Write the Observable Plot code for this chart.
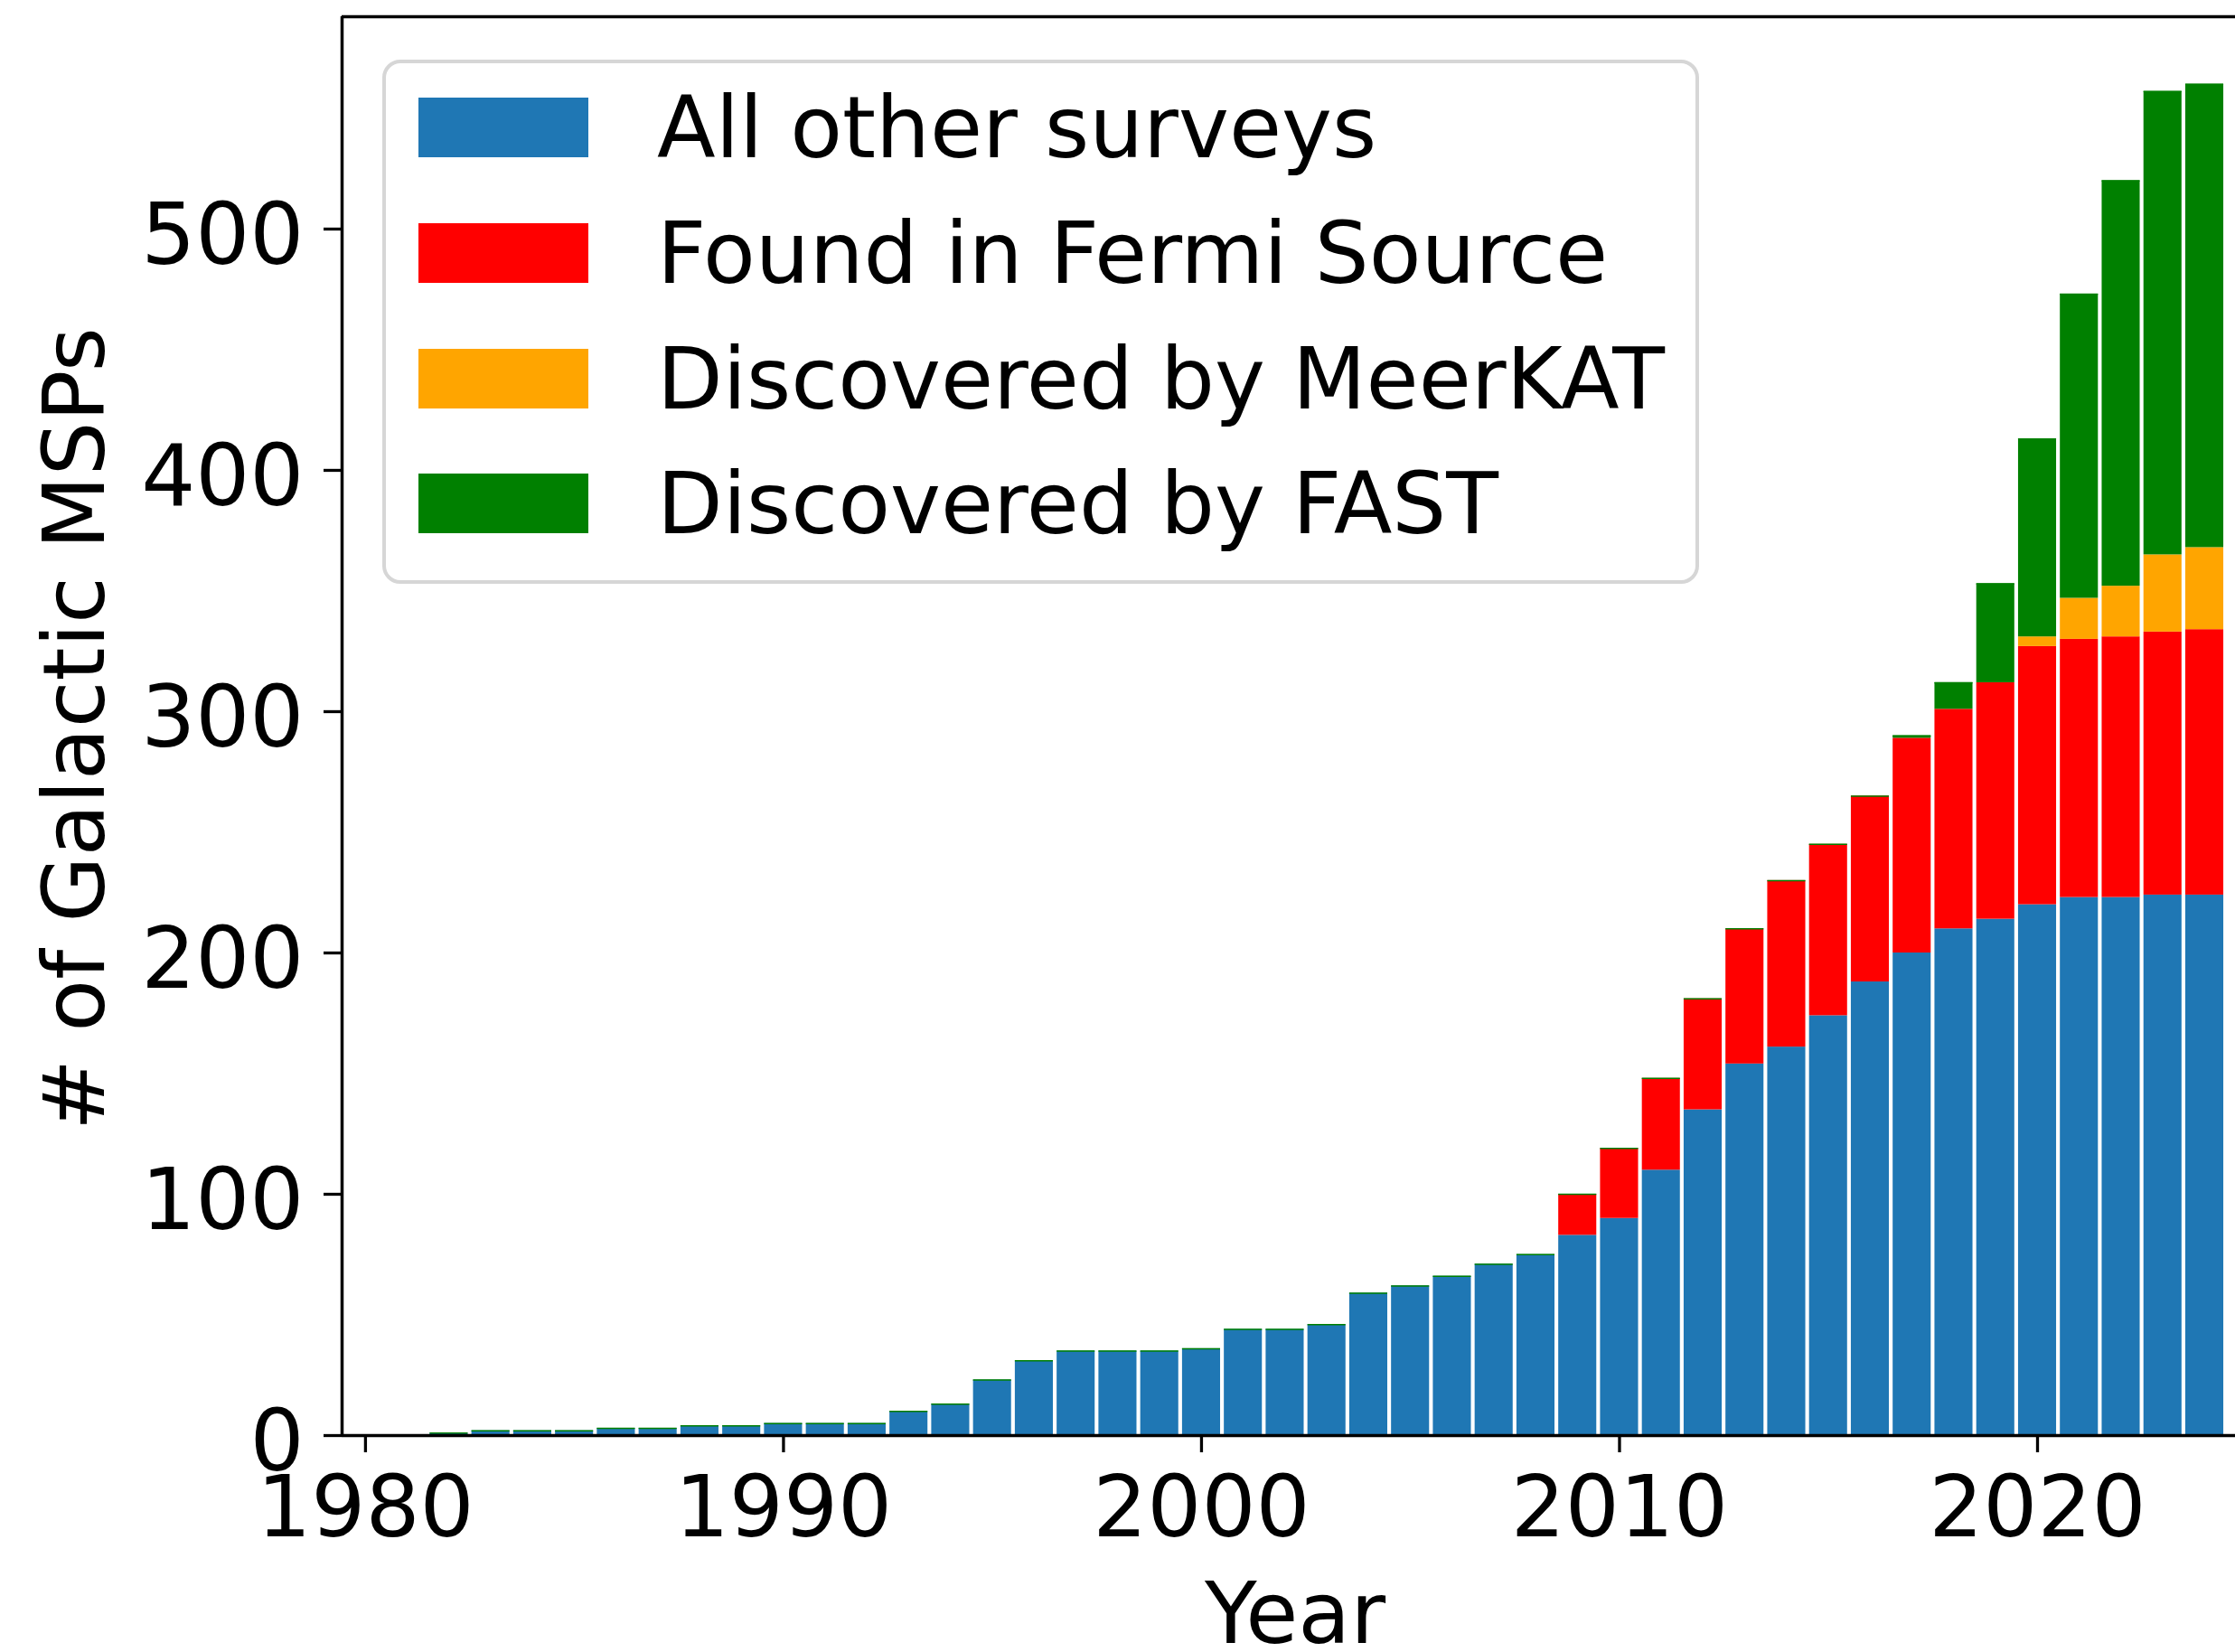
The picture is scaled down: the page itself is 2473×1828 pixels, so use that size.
<!DOCTYPE html>
<html><head><meta charset="utf-8">
<script src="https://cdn.jsdelivr.net/npm/d3@7"></script>
<script src="https://cdn.jsdelivr.net/npm/@observablehq/plot@0.6"></script>
<style>
html,body{margin:0;padding:0;background:#fff;overflow:hidden;}
#wrap{position:relative;width:2473px;height:1828px;}
.legend{position:absolute;left:423px;top:66px;width:1457px;height:580px;box-sizing:border-box;border:4px solid #d6d6d6;border-radius:20px;background:rgba(255,255,255,0.8);font-family:'DejaVu Sans',sans-serif;font-size:94.5px;color:#000;padding:2px 0 0 36px;}
.row{display:flex;align-items:center;height:138.7px;white-space:nowrap;}
.sw{width:188px;height:66px;margin-right:76px;flex:none;}
</style>
</head><body><div id="wrap"></div>
<script>
const years = [1982,1983,1984,1985,1986,1987,1988,1989,1990,1991,1992,1993,1994,1995,1996,1997,1998,1999,2000,2001,2002,2003,2004,2005,2006,2007,2008,2009,2010,2011,2012,2013,2014,2015,2016,2017,2018,2019,2020,2021,2022,2023,2024];
const allOther = [1,2,2,2,3,3,4,4,5,5,5,10,13,23,31,35,35,35,36,44,44,46,59,62,66,71,75,83,90,110,135,154,161,174,188,200,210,214,220,223,223,224,224];
const fermi = [0,0,0,0,0,0,0,0,0,0,0,0,0,0,0,0,0,0,0,0,0,0,0,0,0,0,0,17,29,38,46,56,69,71,77,89,91,98,107,107,108,109,110];
const meerkat = [0,0,0,0,0,0,0,0,0,0,0,0,0,0,0,0,0,0,0,0,0,0,0,0,0,0,0,0,0,0,0,0,0,0,0,0,0,0,4,17,21,32,34];
const fast = [0,0,0,0,0,0,0,0,0,0,0,0,0,0,0,0,0,0,0,0,0,0,0,0,0,0,0,0,0,0,0,0,0,0,0,1,11,41,82,126,168,192,192];
const seriesNames = ["All other surveys","Found in Fermi Source","Discovered by MeerKAT","Discovered by FAST"];
const seriesColors = ["#1f77b4","#ff0000","#ffa500","#008000"];
const xTicks = [1980,1990,2000,2010,2020];
const yTicks = [0,100,200,300,400,500];
const xLabel = "Year";
const yLabel = "# of Galactic MSPs";

const FS = 94.5;
const BAR_W = 0.91;
const X_DOMAIN = [1979.44, 2024.735];
const Y_DOMAIN = [0, 588];

const seriesArrays = [allOther, fermi, meerkat, fast];
const table = [];
years.forEach((yr, i) => {
  let base = 0;
  seriesArrays.forEach((arr, k) => {
    const v = arr[i];
    table.push({year: yr, series: seriesNames[k], y1: base, y2: base + v});
    base += v;
  });
});
const totals = years.map((yr, i) => ({year: yr, total: seriesArrays.reduce((s, a) => s + a[i], 0)}));

const chart = Plot.plot({
  width: 2473, height: 1828,
  marginLeft: 378, marginRight: 0, marginTop: 18, marginBottom: 240,
  style: {fontFamily: "'DejaVu Sans', sans-serif", fontSize: FS + "px", color: "#000", background: "#fff", overflow: "visible"},
  x: {domain: X_DOMAIN},
  y: {domain: Y_DOMAIN},
  color: {domain: seriesNames, range: seriesColors},
  marks: [
    Plot.rect(table, {x1: d => d.year - BAR_W/2, x2: d => d.year + BAR_W/2, y1: "y1", y2: "y2", fill: "series"}),
    Plot.ruleY(totals, {y: "total", x1: d => d.year - BAR_W/2, x2: d => d.year + BAR_W/2, stroke: "#008000", strokeWidth: 1.5}),
    Plot.ruleX([X_DOMAIN[0]], {stroke: "#000", strokeWidth: 3.5}),
    Plot.ruleY([Y_DOMAIN[0]], {stroke: "#000", strokeWidth: 3.5}),
    Plot.ruleY([Y_DOMAIN[1]], {stroke: "#000", strokeWidth: 3.5}),
    Plot.axisX({ticks: xTicks, tickFormat: "d", tickSize: 19, tickPadding: 25, strokeWidth: 3.3, fontSize: FS, label: null}),
    Plot.axisY({ticks: yTicks, tickSize: 20, strokeWidth: 3.3, tickFormat: () => "", label: null}),
    Plot.axisY({ticks: yTicks, tickSize: 0, tickPadding: 42, dy: 8, fontSize: FS, label: null}),
    Plot.text([yLabel], {frameAnchor: "left", rotate: -90, textAnchor: "middle", lineAnchor: "bottom", dx: -264, dy: 3, fontSize: FS, fill: "#000"}),
    Plot.text([xLabel], {frameAnchor: "bottom", textAnchor: "middle", lineAnchor: "bottom", dx: 7, dy: 229, fontSize: FS, fill: "#000"})
  ]
});

const wrap = document.getElementById("wrap");
wrap.appendChild(chart);
const legend = document.createElement("div");
legend.className = "legend";
seriesNames.forEach((name, k) => {
  const row = document.createElement("div");
  row.className = "row";
  const sw = document.createElement("div");
  sw.className = "sw";
  sw.style.background = seriesColors[k];
  const tx = document.createElement("span");
  tx.textContent = name;
  row.appendChild(sw);
  row.appendChild(tx);
  legend.appendChild(row);
});
wrap.appendChild(legend);
</script>
</body></html>
